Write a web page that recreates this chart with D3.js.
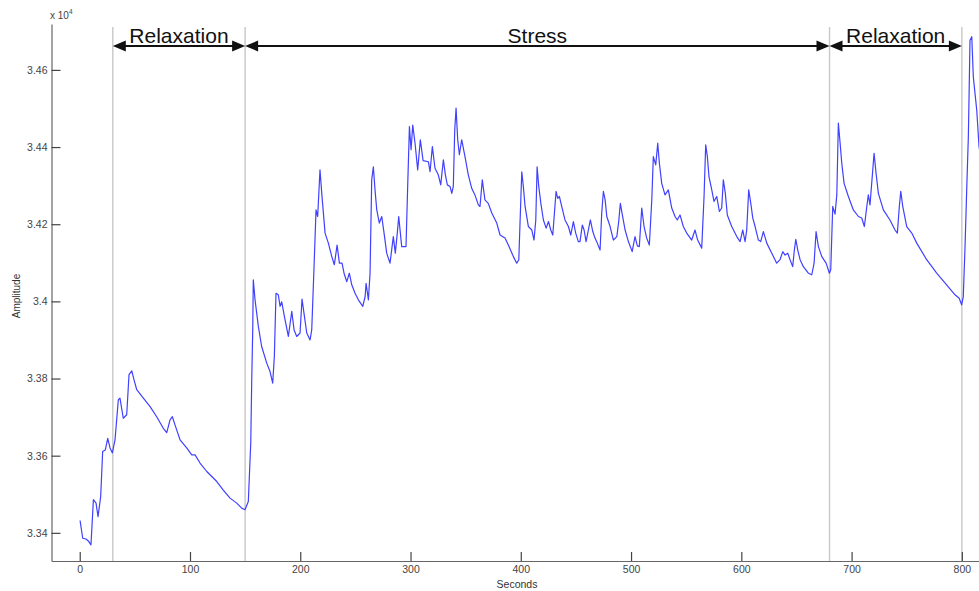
<!DOCTYPE html>
<html>
<head>
<meta charset="utf-8">
<script src="https://cdn.jsdelivr.net/npm/d3@7/dist/d3.min.js"></script>
<style>
  html, body { margin: 0; padding: 0; background: #fff; }
  svg { display: block; font-family: Arial, "Liberation Sans", Helvetica, sans-serif; }
</style>
</head>
<body>
<svg id="chart" width="979" height="591"></svg>
<script>
// ---- Data (amplitude in units of 10^4) ----
const seconds = [0.3,2.7,5.7,7.8,10.2,12.4,14.8,16.6,19,20.8,23.2,25.4,27.5,29.6,32,35,36.5,39.5,42.6,44.7,47.2,49.2,51.7,57.7,63.8,69.8,75.8,78.9,81.9,84,86.4,91,97,101.6,104.6,109.1,115.2,124.3,130.2,136.3,142.4,146.9,149.9,152.9,155.1,156,156.9,157.4,
159,162,165,169.6,172.6,175,176.5,178,180.1,181.7,183.2,185.6,189.2,192.3,194.4,196.8,199.8,201.6,203.4,205.9,208.9,210.4,212.5,214.3,215.8,217.9,219.5,222.5,225.5,228.6,230.9,233.4,235.5,237.9,239.7,242.2,244.5,246.7,249.7,252.7,256.7,258.8,259.7,261.8,263.3,264.8,266.3,267.8,269.4,271.7,273.9,276,278.4,281.4,284.4,286.2,288,289.3,292,295.9,297.5,299,300.5,302,304.1,306.5,308.9,311.4,316.2,317.7,319.8,322.2,325.2,327.4,329.8,331.6,333.4,335.8,337.4,338.8,340.1,341.3,342.8,344.3,346.4,349.4,352.4,355.5,358.4,361.5,363,365.1,367.5,370.5,373.7,378.2,381.2,385.7,388.7,393.3,396.3,398.2,399.3,400.9,402.3,403.9,406.9,410,412,413.6,414.8,416.3,418.2,420.5,423,425.1,427.2,429,430.5,432,433.5,435,437.1,440.1,443.2,445.3,447.7,449.8,452.2,453.7,455.8,457.4,459.2,461.3,463.1,465.3,467.3,469.4,471.9,473.4,474.9,476.5,478,481,484,487.1,488.8,490.3,492.1,494.6,497.6,501,503.6,505.7,507.5,509.7,511.8,514.2,516.6,518.8,520.2,522.4,524.2,525.7,527.8,530.8,533.8,536.9,539.9,541.9,544.4,547.4,550.5,555,558,560.4,564.1,566.2,567.7,569.2,570.7,573.2,575.2,577.7,580.1,582.2,583.7,585.5,587.3,591.3,595.9,598.9,601.3,603.4,604.9,606.7,608.6,610.4,612.5,615.5,617.6,620,623.1,627.6,632.1,635.1,637.6,639.7,642.1,644.2,646.6,648.1,649.4,651.2,653.3,656.3,660.8,663.9,666,667.8,669.9,673,676.9,679.9,681.1,682.9,685,686.6,688,689.6,691.1,693.2,697.1,701.6,706.2,709.2,711.6,713.8,715.2,716.7,720.4,722.2,724.3,728.8,734.8,739.4,741.5,743.3,744.6,746.4,750,754.6,759.1,768.1,777.2,786.2,793.8,797.6,799.8,801.3,802.9,804.4,805.9,807.4,809,810.4,813.5,815.6,818];
const amplitude = [3.3432,3.3386,3.3384,3.3379,3.3369,3.3486,3.3477,3.3442,3.3494,3.3611,3.3615,3.3645,3.3620,3.3607,3.3641,3.3745,3.3749,3.3697,3.3706,3.3810,3.3820,3.3797,3.3771,3.3749,3.3727,3.3701,3.3671,3.3660,3.3693,3.3701,3.3680,3.3641,3.3620,3.3602,3.3602,3.3581,3.3559,3.3533,3.3511,3.3490,3.3477,3.3464,3.3460,3.3481,3.3633,3.3797,3.3926,3.4056,
3.4004,3.3935,3.3883,3.3840,3.3818,3.3788,3.3857,3.4021,3.4017,3.3987,3.3999,3.3961,3.3909,3.3974,3.3926,3.3909,3.3918,3.4006,3.3969,3.3918,3.3900,3.3926,3.4090,3.4237,3.4220,3.4341,3.4280,3.4177,3.4151,3.4116,3.4095,3.4146,3.4099,3.4099,3.4073,3.4051,3.4073,3.4043,3.4021,3.4004,3.3987,3.4012,3.4047,3.4004,3.4073,3.4315,3.4349,3.4289,3.4237,3.4203,3.4220,3.4177,3.4125,3.4099,3.4168,3.4125,3.4177,3.4220,3.4142,3.4142,3.4306,3.4453,3.4393,3.4457,3.4410,3.4341,3.4419,3.4365,3.4362,3.4336,3.4401,3.4345,3.4328,3.4302,3.4367,3.4328,3.4302,3.4298,3.4280,3.4298,3.4444,3.4501,3.4419,3.4380,3.4419,3.4375,3.4328,3.4293,3.4276,3.4250,3.4246,3.4315,3.4263,3.4254,3.4229,3.4203,3.4172,3.4164,3.4146,3.4116,3.4099,3.4108,3.4203,3.4336,3.4298,3.4246,3.4194,3.4185,3.4159,3.4211,3.4349,3.4298,3.4254,3.4211,3.4190,3.4207,3.4185,3.4172,3.4229,3.4285,3.4267,3.4272,3.4246,3.4211,3.4194,3.4172,3.4207,3.4177,3.4155,3.4155,3.4198,3.4185,3.4155,3.4185,3.4211,3.4181,3.4164,3.4151,3.4133,3.4229,3.4285,3.4263,3.4220,3.4194,3.4159,3.4168,3.4207,3.4254,3.4224,3.4185,3.4155,3.4129,3.4168,3.4144,3.4142,3.4242,3.4194,3.4164,3.4146,3.4263,3.4375,3.4354,3.4410,3.4358,3.4306,3.4276,3.4289,3.4242,3.4220,3.4211,3.4224,3.4194,3.4177,3.4159,3.4185,3.4159,3.4138,3.4272,3.4406,3.4375,3.4323,3.4289,3.4259,3.4272,3.4233,3.4242,3.4315,3.4280,3.4224,3.4194,3.4168,3.4155,3.4185,3.4155,3.4185,3.4289,3.4254,3.4216,3.4194,3.4159,3.4155,3.4181,3.4151,3.4125,3.4099,3.4108,3.4129,3.4120,3.4125,3.4108,3.4090,3.4133,3.4161,3.4133,3.4108,3.4090,3.4073,3.4069,3.4099,3.4181,3.4142,3.4116,3.4099,3.4073,3.4082,3.4246,3.4226,3.4276,3.4462,3.4410,3.4358,3.4306,3.4272,3.4237,3.4220,3.4216,3.4194,3.4246,3.4276,3.4250,3.4384,3.4332,3.4280,3.4237,3.4211,3.4185,3.4177,3.4246,3.4285,3.4246,3.4194,3.4177,3.4151,3.4108,3.4073,3.4043,3.4017,3.4008,3.3991,3.4012,3.4142,3.4289,3.4427,3.4677,3.4686,3.4582,3.4496,3.4401,3.4360];

const xTicks = [0,100,200,300,400,500,600,700,800];
const yTicks = [3.34,3.36,3.38,3.40,3.42,3.44,3.46];
const yTickLabels = ["3.34","3.36","3.38","3.4","3.42","3.44","3.46"];

const boundaries = [30,150,680,800];
const phaseLabels = ["Relaxation","Stress","Relaxation"];
const phaseStart = [30,150,680];
const phaseEnd = [150,680,800];

// ---- Scales ----
const svg = d3.select("#chart");
const x = d3.scaleLinear().domain([-25.6, 820]).range([51.5, 983.9]);
const y = d3.scaleLinear().domain([3.3327, 3.4719]).range([561, 24]);

// ---- Vertical phase boundaries ----
svg.append("g").selectAll("line").data(boundaries).join("line")
  .attr("x1", d => x(d)).attr("x2", d => x(d))
  .attr("y1", 27).attr("y2", 561)
  .attr("stroke", "#c8c8c8").attr("stroke-width", 1.4);

// ---- Signal line ----
const pts = seconds.map((s, i) => [s, amplitude[i]]);
svg.append("path").datum(pts)
  .attr("fill", "none")
  .attr("stroke", "#4040ff")
  .attr("stroke-width", 1.2)
  .attr("stroke-linejoin", "round")
  .attr("d", d3.line().x(d => x(d[0])).y(d => y(d[1])));

// ---- Axes ----
const axisColor = "#666";
const yAxis = svg.append("g").attr("transform", "translate(51.5,0)")
  .call(d3.axisLeft(y).tickValues(yTicks).tickFormat((d, i) => yTickLabels[i])
    .tickSizeInner(-9).tickSizeOuter(0).tickPadding(4));
const xAxis = svg.append("g").attr("transform", "translate(0,561)")
  .call(d3.axisBottom(x).tickValues(xTicks).tickFormat(d3.format("d"))
    .tickSizeInner(-9).tickSizeOuter(0).tickPadding(5));
[yAxis, xAxis].forEach(g => {
  g.select(".domain").attr("stroke", axisColor).attr("stroke-width", 1.2);
  g.selectAll(".tick line").attr("stroke", "#444").attr("stroke-width", 1.2);
  g.selectAll(".tick text").attr("fill", "#444")
    .style("font-size", "10.5px").style("font-family", "Arial, 'Liberation Sans', sans-serif");
});

// ---- Axis titles ----
svg.append("text").attr("x", 517).attr("y", 588).attr("text-anchor", "middle")
  .attr("fill", "#333").style("font-size", "10.5px").text("Seconds");
svg.append("text").attr("transform", "translate(19.5,296) rotate(-90)")
  .attr("text-anchor", "middle").attr("fill", "#333").style("font-size", "10px").text("Amplitude");
const exp = svg.append("text").attr("x", 50).attr("y", 19).attr("fill", "#444").style("font-size", "10px");
exp.append("tspan").text("x 10");
exp.append("tspan").attr("dy", -5).style("font-size", "6.5px").text("4");

// ---- Phase arrows ----
const arrowY = 46, headL = 13, headW = 5.5;
const phases = svg.append("g");
phaseStart.forEach((s, i) => {
  const x0 = x(s), x1 = x(phaseEnd[i]);
  phases.append("line").attr("x1", x0 + headL - 1).attr("x2", x1 - headL + 1)
    .attr("y1", arrowY).attr("y2", arrowY).attr("stroke", "#111").attr("stroke-width", 2.2);
  phases.append("path").attr("fill", "#111")
    .attr("d", `M${x0},${arrowY} L${x0 + headL},${arrowY - headW} L${x0 + headL},${arrowY + headW} Z`);
  phases.append("path").attr("fill", "#111")
    .attr("d", `M${x1},${arrowY} L${x1 - headL},${arrowY - headW} L${x1 - headL},${arrowY + headW} Z`);
  phases.append("text").attr("x", (x0 + x1) / 2).attr("y", 43).attr("text-anchor", "middle")
    .attr("fill", "#111").style("font-size", "21px").text(phaseLabels[i]);
});
</script>
</body>
</html>
